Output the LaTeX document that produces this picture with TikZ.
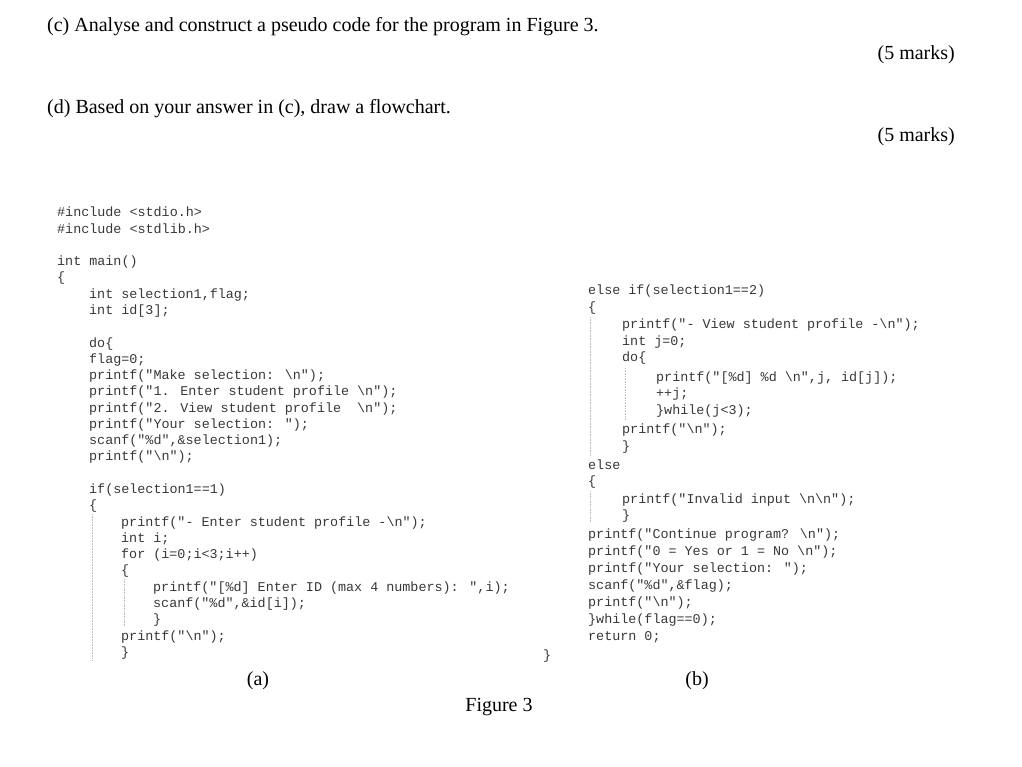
\documentclass[tikz,border=0pt]{standalone}
\usepackage{fontspec}
\setmainfont{Liberation Serif}
\newfontfamily\codef{Liberation Mono}
\begin{document}
\begin{tikzpicture}[x=1pt,y=-1pt,
  code/.style={anchor=west,inner sep=0pt,font=\codef\fontsize{13.4}{16}\selectfont,text=black!78},
  head/.style={anchor=west,inner sep=0pt,font=\fontsize{20}{24}\selectfont},
  guide/.style={draw=black!25,line width=0.6pt,densely dotted}]
\useasboundingbox (0,0) rectangle (1022,767);
\node[head] (hc) at (47,27) {(c) Analyse and construct a pseudo code for the program in Figure 3.};
\node[head,anchor=east] (mc) at (955,55) {(5 marks)};
\node[head] (hd) at (47,109) {(d) Based on your answer in (c), draw a flowchart.};
\node[head,anchor=east] (md) at (955,137) {(5 marks)};
% left column
\node[code] (a1) at (57,212) {\#include <stdio.h>};
\node[code] (a2) at (57,229) {\#include <stdlib.h>};
\node[code] (a3) at (57,262) {int main()};
\node[code] (a4) at (57,278) {\{};
\node[code] (a5) at (89,295) {int selection1,flag;};
\node[code] (a6) at (89,311) {int id[3];};
\node[code] (a7) at (89,344) {do\{};
\node[code] (a8) at (89,360) {flag=0;};
\node[code] (a9) at (89,376) {printf("Make selection: \textbackslash n");};
\node[code] (a10) at (89,392) {printf("1. Enter student profile \textbackslash n");};
\node[code] (a11) at (89,409) {printf("2. View student profile~ \textbackslash n");};
\node[code] (a12) at (89,425) {printf("Your selection: ");};
\node[code] (a13) at (89,441) {scanf("\%d",\&selection1);};
\node[code] (a14) at (89,457) {printf("\textbackslash n");};
\node[code] (a15) at (89,490) {if(selection1==1)};
\node[code] (a16) at (89,506) {\{};
\node[code] (a17) at (121,523) {printf("- Enter student profile -\textbackslash n");};
\node[code] (a18) at (121,539) {int i;};
\node[code] (a19) at (121,555) {for (i=0;i<3;i++)};
\node[code] (a20) at (121,571) {\{};
\node[code] (a21) at (153,588) {printf("[\%d] Enter ID (max 4 numbers): ",i);};
\node[code] (a22) at (153,604) {scanf("\%d",\&id[i]);};
\node[code] (a23) at (153,620) {\}};
\node[code] (a24) at (121,637) {printf("\textbackslash n");};
\node[code] (a25) at (121,653) {\}};
\node[code] (a26) at (543,656) {\}};
% right column
\node[code] (b1) at (588,291) {else if(selection1==2)};
\node[code] (b2) at (588,308) {\{};
\node[code] (b3) at (622,325) {printf("- View student profile -\textbackslash n");};
\node[code] (b4) at (622,342) {int j=0;};
\node[code] (b5) at (622,358) {do\{};
\node[code] (b6) at (656,378) {printf("[\%d] \%d \textbackslash n",j, id[j]);};
\node[code] (b7) at (656,394) {++j;};
\node[code] (b8) at (656,411) {\}while(j<3);};
\node[code] (b9) at (622,430) {printf("\textbackslash n");};
\node[code] (b10) at (622,447) {\}};
\node[code] (b11) at (588,465) {else};
\node[code] (b12) at (588,482) {\{};
\node[code] (b13) at (622,500) {printf("Invalid input \textbackslash n\textbackslash n");};
\node[code] (b14) at (622,516) {\}};
\node[code] (b15) at (588,535) {printf("Continue program? \textbackslash n");};
\node[code] (b16) at (588,552) {printf("0 = Yes or 1 = No \textbackslash n");};
\node[code] (b17) at (588,569) {printf("Your selection: ");};
\node[code] (b18) at (588,586) {scanf("\%d",\&flag);};
\node[code] (b19) at (588,603) {printf("\textbackslash n");};
\node[code] (b20) at (588,620) {\}while(flag==0);};
\node[code] (b21) at (588,637) {return 0;};
% guides
\draw[guide] (92,514) -- (92,660);
\draw[guide] (124,579) -- (124,627);
\draw[guide] (590,317) -- (590,455);
\draw[guide] (625,368) -- (625,420);
\draw[guide] (590,491) -- (590,522);
% captions
\node[head,anchor=center] (ca) at (258,681) {(a)};
\node[head,anchor=center] (cb) at (697,681) {(b)};
\node[head,anchor=center] (fig) at (499,707) {Figure 3};
\end{tikzpicture}
\end{document}
